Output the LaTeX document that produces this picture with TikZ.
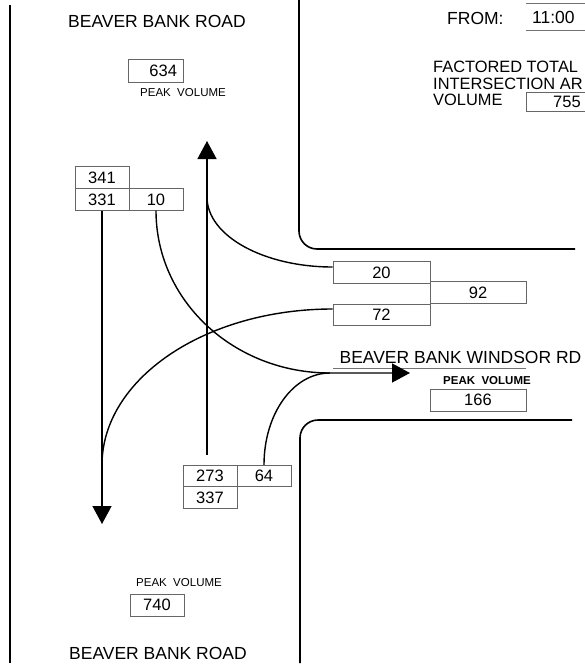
\documentclass[tikz,border=0pt]{standalone}
\usepackage{fontspec}
\setmainfont{Liberation Sans}
\usetikzlibrary{arrows.meta,calc}
\begin{document}
\begin{tikzpicture}[x=1pt,y=-1pt,
  road/.style={line width=1.6pt, black},
  flow/.style={line width=1.4pt, black},
  arr/.style={flow, -{Triangle[length=18pt,width=19pt]}},
  numbox/.style={draw=black!60, line width=0.7pt, minimum width=54pt, minimum height=21.5pt, inner sep=0pt, font=\fontsize{16.5}{18}\selectfont},
  widebox/.style={numbox, minimum width=97pt},
  big/.style={font=\fontsize{17.5}{18}\selectfont, inner sep=0pt},
  mid/.style={font=\fontsize{16.4}{17}\selectfont, inner sep=0pt},
  small/.style={font=\fontsize{11.5}{12}\selectfont, inner sep=0pt},
  guide/.style={draw=black!55, line width=0.7pt}
]
\useasboundingbox (0,0) rectangle (585,665);
\clip (0,0) rectangle (585,665);

% road edges
\draw[road] (10,5) -- (10,663);
\draw[road, rounded corners=18pt] (299,0) -- (299,249) -- (575,249);
\draw[road, rounded corners=18pt] (572,420) -- (300,420) -- (300,663);

% titles
\node[big] (tnorth) at (157,21) {BEAVER BANK ROAD};
\node[big] (tsouth) at (158,653) {BEAVER BANK ROAD};
\node[big] (twind) at (460.5,357) {BEAVER BANK WINDSOR RD};
\draw[guide] (333,368) -- (526,368);

% top right
\node[big, anchor=west] (tfrom) at (447,18) {FROM:};
\node[big, anchor=west] (t1100) at (532,17) {11:00};
\draw[guide] (526,3) -- (590,3);
\draw[guide] (526,30) -- (590,30);
\node[mid, anchor=west] (tf1) at (433,67) {FACTORED TOTAL};
\node[mid, anchor=west] (tf2) at (433,83.5) {INTERSECTION AR};
\node[mid, anchor=west] (tf3) at (433,100) {VOLUME};
\node[numbox, minimum width=82pt, minimum height=19pt] (b755) at (567,101.5) {755};

% peak volumes
\node[numbox, minimum height=23pt, text width=43pt, align=right, inner xsep=6pt] (b634) at (155.5,70.5) {634};
\node[small] (pv1) at (183,93) {PEAK\ \ VOLUME};
\node[small] (pv2) at (179,583) {PEAK\ \ VOLUME};
\node[numbox, minimum height=22pt] (b740) at (157,605) {740};
\node[small, font=\fontsize{11.5}{12}\selectfont\bfseries] (pv3) at (487,381) {PEAK\ \ VOLUME};
\node[numbox, minimum width=96pt, minimum height=22pt] (b166) at (478,400) {166};

% turning movement boxes
\node[numbox] (b341) at (102,177.5) {341};
\node[numbox] (b331) at (102,199.5) {331};
\node[numbox] (b10) at (156,199.5) {10};
\node[numbox] (b273) at (210,476) {273};
\node[numbox] (b337) at (210,497.5) {337};
\node[numbox] (b64) at (264,476) {64};
\node[widebox] (b20) at (381.5,272.5) {20};
\node[widebox, minimum width=96pt] (b92) at (478,292.5) {92};
\node[widebox] (b72) at (381.5,315) {72};

% coordinates
\coordinate (uptip) at (207,141);
\coordinate (dntip) at (102,524);
\coordinate (wtip) at (410,373);
\coordinate (j1) at (207,197);
\coordinate (j2) at (330,373);
\coordinate (j3) at (102,465);

% flows
\draw[arr] ($(b273.north)+(-3,-10)$) -- (uptip);
\draw[flow] (j1) .. controls (207,236) and (264,267) .. ($(b20.west)+(0,-5.5)$);
\draw[arr] (b331.south) -- (dntip);
\draw[flow] ($(b72.west)+(0,-6)$) .. controls (205,309) and (102,379) .. (j3);
\draw[arr] (b10.south) .. controls (156,301) and (234,373) .. (j2) -- (wtip);
\draw[flow] (b64.north) .. controls (264,414) and (293,373) .. (j2);
\end{tikzpicture}
\end{document}
